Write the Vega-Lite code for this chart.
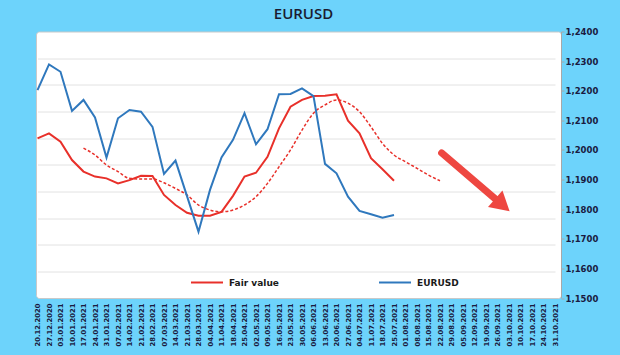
{
  "$schema": "https://vega.github.io/schema/vega-lite/v6.json",
  "autosize": {"type": "none"},
  "width": 525,
  "height": 266.5,
  "padding": {"left": 36, "top": 31.5, "right": 59, "bottom": 57},
  "background": "#6DD3FB",
  "config": {
    "view": {"fill": "white", "stroke": "#C9C9C9", "cornerRadius": 3},
    "font": "DejaVu Sans"
  },
  "title": {
    "text": "EURUSD",
    "font": "Open Sans",
    "fontSize": 15,
    "fontWeight": 600,
    "color": "#1B1B2F",
    "anchor": "middle",
    "dx": 5,
    "offset": 6
  },
  "datasets": {
    "lines": [
      {"date": "2020-12-20", "series": "Fair value", "value": 1.2039},
      {"date": "2020-12-27", "series": "Fair value", "value": 1.2056},
      {"date": "2021-01-03", "series": "Fair value", "value": 1.2028},
      {"date": "2021-01-10", "series": "Fair value", "value": 1.1966},
      {"date": "2021-01-17", "series": "Fair value", "value": 1.1927},
      {"date": "2021-01-24", "series": "Fair value", "value": 1.1910},
      {"date": "2021-01-31", "series": "Fair value", "value": 1.1904},
      {"date": "2021-02-07", "series": "Fair value", "value": 1.1887},
      {"date": "2021-02-14", "series": "Fair value", "value": 1.1898},
      {"date": "2021-02-21", "series": "Fair value", "value": 1.1913},
      {"date": "2021-02-28", "series": "Fair value", "value": 1.1912},
      {"date": "2021-03-07", "series": "Fair value", "value": 1.1848},
      {"date": "2021-03-14", "series": "Fair value", "value": 1.1814},
      {"date": "2021-03-21", "series": "Fair value", "value": 1.1788},
      {"date": "2021-03-28", "series": "Fair value", "value": 1.1778},
      {"date": "2021-04-04", "series": "Fair value", "value": 1.1778},
      {"date": "2021-04-11", "series": "Fair value", "value": 1.1791},
      {"date": "2021-04-18", "series": "Fair value", "value": 1.1845},
      {"date": "2021-04-25", "series": "Fair value", "value": 1.1910},
      {"date": "2021-05-02", "series": "Fair value", "value": 1.1923},
      {"date": "2021-05-09", "series": "Fair value", "value": 1.1977},
      {"date": "2021-05-16", "series": "Fair value", "value": 1.2073},
      {"date": "2021-05-23", "series": "Fair value", "value": 1.2146},
      {"date": "2021-05-30", "series": "Fair value", "value": 1.2169},
      {"date": "2021-06-06", "series": "Fair value", "value": 1.2182},
      {"date": "2021-06-13", "series": "Fair value", "value": 1.2183},
      {"date": "2021-06-20", "series": "Fair value", "value": 1.2188},
      {"date": "2021-06-27", "series": "Fair value", "value": 1.2099},
      {"date": "2021-07-04", "series": "Fair value", "value": 1.2056},
      {"date": "2021-07-11", "series": "Fair value", "value": 1.1972},
      {"date": "2021-07-18", "series": "Fair value", "value": 1.1935},
      {"date": "2021-07-25", "series": "Fair value", "value": 1.1896},
      {"date": "2020-12-20", "series": "EURUSD", "value": 1.2202},
      {"date": "2020-12-27", "series": "EURUSD", "value": 1.2289},
      {"date": "2021-01-03", "series": "EURUSD", "value": 1.2264},
      {"date": "2021-01-10", "series": "EURUSD", "value": 1.2132},
      {"date": "2021-01-17", "series": "EURUSD", "value": 1.2169},
      {"date": "2021-01-24", "series": "EURUSD", "value": 1.2110},
      {"date": "2021-01-31", "series": "EURUSD", "value": 1.1974},
      {"date": "2021-02-07", "series": "EURUSD", "value": 1.2107},
      {"date": "2021-02-14", "series": "EURUSD", "value": 1.2135},
      {"date": "2021-02-21", "series": "EURUSD", "value": 1.2129},
      {"date": "2021-02-28", "series": "EURUSD", "value": 1.2078},
      {"date": "2021-03-07", "series": "EURUSD", "value": 1.1919},
      {"date": "2021-03-14", "series": "EURUSD", "value": 1.1964},
      {"date": "2021-03-21", "series": "EURUSD", "value": 1.1844},
      {"date": "2021-03-28", "series": "EURUSD", "value": 1.1724},
      {"date": "2021-04-04", "series": "EURUSD", "value": 1.1865},
      {"date": "2021-04-11", "series": "EURUSD", "value": 1.1975},
      {"date": "2021-04-18", "series": "EURUSD", "value": 1.2034},
      {"date": "2021-04-25", "series": "EURUSD", "value": 1.2124},
      {"date": "2021-05-02", "series": "EURUSD", "value": 1.2019},
      {"date": "2021-05-09", "series": "EURUSD", "value": 1.2070},
      {"date": "2021-05-16", "series": "EURUSD", "value": 1.2188},
      {"date": "2021-05-23", "series": "EURUSD", "value": 1.2189},
      {"date": "2021-05-30", "series": "EURUSD", "value": 1.2208},
      {"date": "2021-06-06", "series": "EURUSD", "value": 1.2182},
      {"date": "2021-06-13", "series": "EURUSD", "value": 1.1953},
      {"date": "2021-06-20", "series": "EURUSD", "value": 1.1921},
      {"date": "2021-06-27", "series": "EURUSD", "value": 1.1842},
      {"date": "2021-07-04", "series": "EURUSD", "value": 1.1794},
      {"date": "2021-07-11", "series": "EURUSD", "value": 1.1783},
      {"date": "2021-07-18", "series": "EURUSD", "value": 1.1771},
      {"date": "2021-07-25", "series": "EURUSD", "value": 1.1780}
    ],
    "trend": [
      {"date": "2021-01-17", "value": 1.2006},
      {"date": "2021-01-24", "value": 1.1983},
      {"date": "2021-01-31", "value": 1.1949},
      {"date": "2021-02-07", "value": 1.1927},
      {"date": "2021-02-14", "value": 1.1904},
      {"date": "2021-02-21", "value": 1.1902},
      {"date": "2021-02-28", "value": 1.1902},
      {"date": "2021-03-07", "value": 1.1889},
      {"date": "2021-03-14", "value": 1.1870},
      {"date": "2021-03-21", "value": 1.1848},
      {"date": "2021-03-28", "value": 1.1814},
      {"date": "2021-04-04", "value": 1.1797},
      {"date": "2021-04-11", "value": 1.1791},
      {"date": "2021-04-18", "value": 1.1797},
      {"date": "2021-04-25", "value": 1.1814},
      {"date": "2021-05-02", "value": 1.1842},
      {"date": "2021-05-09", "value": 1.1887},
      {"date": "2021-05-16", "value": 1.1943},
      {"date": "2021-05-23", "value": 1.2000},
      {"date": "2021-05-30", "value": 1.2067},
      {"date": "2021-06-06", "value": 1.2124},
      {"date": "2021-06-13", "value": 1.2152},
      {"date": "2021-06-20", "value": 1.2169},
      {"date": "2021-06-27", "value": 1.2158},
      {"date": "2021-07-04", "value": 1.2129},
      {"date": "2021-07-11", "value": 1.2078},
      {"date": "2021-07-18", "value": 1.2022},
      {"date": "2021-07-25", "value": 1.1983},
      {"date": "2021-08-01", "value": 1.1960},
      {"date": "2021-08-08", "value": 1.1938},
      {"date": "2021-08-15", "value": 1.1915},
      {"date": "2021-08-22", "value": 1.1896}
    ],
    "arrow": [
      {"date": "2021-08-23", "value": 1.1990, "date2": "2021-09-29", "value2": 1.1814}
    ],
    "arrowhead": [
      {"date": "2021-09-29", "value": 1.1814}
    ]
  },
  "encoding": {
    "x": {
      "field": "date",
      "type": "temporal",
      "scale": {
        "type": "utc",
        "domain": [
          {"year": 2020, "month": 12, "date": 20, "utc": true},
          {"year": 2021, "month": 10, "date": 31, "utc": true}
        ],
        "range": [1.5, 519]
      },
      "axis": {
        "title": null,
        "tickCount": {"interval": "week", "step": 1},
        "labelExpr": "utcFormat(datum.value, '%d.%m.%Y')",
        "labelAngle": 270,
        "labelAlign": "right",
        "labelBaseline": "middle",
        "labelFontSize": 6.8,
        "labelFontWeight": "bold",
        "labelColor": "#1A1A40",
        "labelOverlap": false,
        "labelFlush": false,
        "labelPadding": 5,
        "ticks": false,
        "domain": false,
        "grid": false
      }
    }
  },
  "layer": [
    {
      "data": {"name": "trend"},
      "mark": {"type": "line", "color": "#E8302A", "strokeWidth": 1.5, "strokeDash": [3, 2], "interpolate": "monotone"},
      "encoding": {
        "y": {
          "field": "value",
          "type": "quantitative",
          "scale": {"domain": [1.15, 1.24], "nice": false, "zero": false},
          "axis": {
            "orient": "left",
            "title": null,
            "values": [1.159, 1.168, 1.177, 1.186, 1.195, 1.204, 1.213, 1.222, 1.231],
            "grid": true,
            "gridColor": "#E2E2E2",
            "gridWidth": 1,
            "labels": false,
            "ticks": false,
            "domain": false
          }
        }
      }
    },
    {
      "data": {"name": "lines"},
      "mark": {"type": "line", "strokeWidth": 2},
      "encoding": {
        "y": {
          "field": "value",
          "type": "quantitative",
          "axis": {
            "orient": "right",
            "title": null,
            "values": [1.15, 1.16, 1.17, 1.18, 1.19, 1.2, 1.21, 1.22, 1.23, 1.24],
            "labelExpr": "replace(format(datum.value, '.4f'), '.', ',')",
            "grid": false,
            "domain": true,
            "domainColor": "#A8A8A8",
            "ticks": true,
            "tickSize": 3,
            "tickColor": "#A8A8A8",
            "labelPadding": 1,
            "labelFontSize": 8.5,
            "labelFontWeight": "bold",
            "labelColor": "#1A1A40"
          }
        },
        "color": {
          "field": "series",
          "type": "nominal",
          "scale": {"domain": ["Fair value", "EURUSD"], "range": ["#E8302A", "#2F78BD"]},
          "legend": {
            "orient": "none",
            "legendX": 154,
            "legendY": 234,
            "direction": "horizontal",
            "columns": 2,
            "columnPadding": 96,
            "title": null,
            "symbolType": "stroke",
            "symbolSize": 1024,
            "symbolStrokeWidth": 2,
            "labelFontSize": 9,
            "labelFontWeight": "bold",
            "labelColor": "#1A1A1A",
            "labelOffset": 5
          }
        }
      }
    },
    {
      "data": {"name": "arrow"},
      "mark": {"type": "rule", "color": "#EE4741", "strokeWidth": 7, "strokeCap": "round"},
      "encoding": {
        "y": {"field": "value", "type": "quantitative", "axis": null},
        "x2": {"field": "date2"},
        "y2": {"field": "value2"}
      }
    },
    {
      "data": {"name": "arrowhead"},
      "mark": {"type": "point", "shape": "triangle-right", "filled": true, "color": "#EE4741", "size": 484, "angle": 41, "opacity": 1},
      "encoding": {
        "y": {"field": "value", "type": "quantitative", "axis": null}
      }
    }
  ],
  "resolve": {"axis": {"y": "independent"}}
}
